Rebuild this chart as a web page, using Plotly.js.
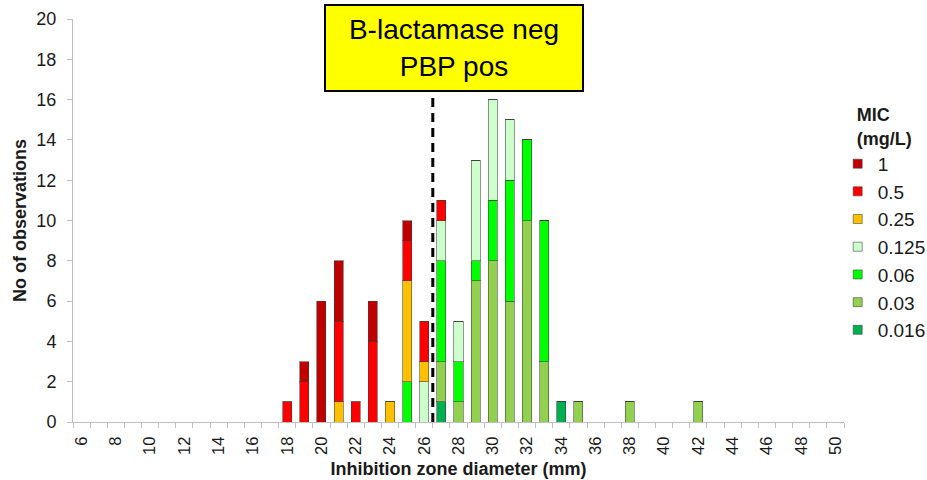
<!DOCTYPE html>
<html>
<head>
<meta charset="utf-8">
<script src="https://cdn.plot.ly/plotly-3.0.1.min.js"></script>
<style>html,body{margin:0;padding:0;background:#fff;}#chart{width:927px;height:480px;}</style>
</head>
<body>
<div id="chart"></div>
<script>
// Inhibition zone diameters (mm)
const diameters = [18,19,20,21,22,23,24,25,26,27,28,29,30,31,32,33,34,35,38,42];
// Counts per MIC (mg/L), aligned with diameters
const mic0016 = [0,0,0,0,0,0,0,0,0,1,0,0,0,0,0,0,1,0,0,0];
const mic003  = [0,0,0,0,0,0,0,0,0,2,1,7,8,6,10,3,0,1,1,1];
const mic006  = [0,0,0,0,0,0,0,2,0,5,2,1,3,6,4,7,0,0,0,0];
const mic0125 = [0,0,0,0,0,0,0,0,2,2,2,5,5,3,0,0,0,0,0,0];
const mic025  = [0,0,0,1,0,0,1,5,1,0,0,0,0,0,0,0,0,0,0,0];
const mic05   = [1,2,0,4,1,4,0,2,2,1,0,0,0,0,0,0,0,0,0,0];
const mic1    = [0,1,6,3,0,2,0,1,0,0,0,0,0,0,0,0,0,0,0,0];

const seriesNames  = ['0.016','0.03','0.06','0.125','0.25','0.5','1'];
const seriesValues = [mic0016, mic003, mic006, mic0125, mic025, mic05, mic1];
const seriesColors = ['#00B050','#92D050','#00FF00','#CCFFCC','#FFC000','#FF0000','#C00000'];

const xTickVals = [6,8,10,12,14,16,18,20,22,24,26,28,30,32,34,36,38,40,42,44,46,48,50];
const cutoff = 26.5;
const boxText = 'B-lactamase neg<br>PBP pos';

const outline = 'rgba(60,60,60,0.55)';
const traces = seriesNames.map((n, i) => ({
  type: 'bar',
  name: n,
  x: diameters,
  y: seriesValues[i],
  showlegend: false,
  marker: {color: seriesColors[i], line: {color: outline, width: 1}},
  hoverinfo: 'x+y+name'
}));
// legend-only entries with small square swatches
seriesNames.forEach((n, i) => {
  traces.push({
    type: 'scatter', mode: 'markers', name: n,
    x: [null], y: [null],
    marker: {symbol: 'square', size: 9, color: seriesColors[i], line: {color: outline, width: 1}},
    showlegend: true, hoverinfo: 'skip'
  });
});

const axisGrey = '#BFBFBF';
const txt = '#1a1a1a';
const layout = {
  width: 927, height: 480,
  margin: {l: 73, r: 83, t: 19, b: 58, autoexpand: false},
  paper_bgcolor: '#fff', plot_bgcolor: '#fff',
  barmode: 'stack',
  bargap: 0.47,
  font: {family: 'Liberation Sans, Arial, sans-serif', color: txt, size: 17},
  xaxis: {
    range: [5.5, 50.5],
    tickmode: 'array', tickvals: xTickVals, ticktext: xTickVals.map(String),
    ticks: '', tickangle: -90, ticklabelstandoff: 7,
    tickfont: {size: 16.5, color: txt},
    showgrid: false, zeroline: false,
    showline: true, linecolor: axisGrey, linewidth: 1,
    minor: {tickmode: 'linear', tick0: 5.5, dtick: 1, ticks: 'outside', ticklen: 5, tickcolor: axisGrey, tickwidth: 1, showgrid: false},
    title: {text: '<b>Inhibition zone diameter (mm)</b>', font: {size: 18, color: txt}, standoff: 8}
  },
  yaxis: {
    range: [0, 20], dtick: 2, tick0: 0,
    ticks: 'outside', ticklen: 5, tickcolor: axisGrey, ticklabelstandoff: 7,
    tickfont: {size: 18, color: txt},
    showgrid: false, zeroline: false,
    showline: true, linecolor: axisGrey, linewidth: 1,
    title: {text: '<b>No of observations</b>', font: {size: 18, color: txt}, standoff: 5}
  },
  legend: {
    x: 0.9918, xanchor: 'left', y: 0.804, yanchor: 'top',
    traceorder: 'reversed',
    font: {size: 19, color: txt},
    title: {text: '<b>MIC<br>(mg/L)</b>', side: 'top center', font: {size: 18, color: txt}},
    itemwidth: 30, tracegroupgap: 0,
    bgcolor: 'rgba(0,0,0,0)'
  },
  shapes: [{
    type: 'line', xref: 'x', yref: 'y',
    x0: cutoff, x1: cutoff, y0: 0, y1: 17.5,
    line: {color: '#000', width: 3, dash: '9px,6px'}
  }],
  annotations: [{
    xref: 'paper', yref: 'paper', x: 0.4938, y: 0.929,
    xanchor: 'center', yanchor: 'middle',
    text: boxText, showarrow: false,
    font: {size: 28, color: '#000', family: 'Liberation Sans, Arial, sans-serif'},
    bgcolor: '#FFFF00', bordercolor: '#000', borderwidth: 2, borderpad: 0,
    width: 256, height: 84, align: 'center', valign: 'middle'
  }]
};

Plotly.newPlot('chart', traces, layout, {displayModeBar: false, staticPlot: true});
</script>
</body>
</html>
